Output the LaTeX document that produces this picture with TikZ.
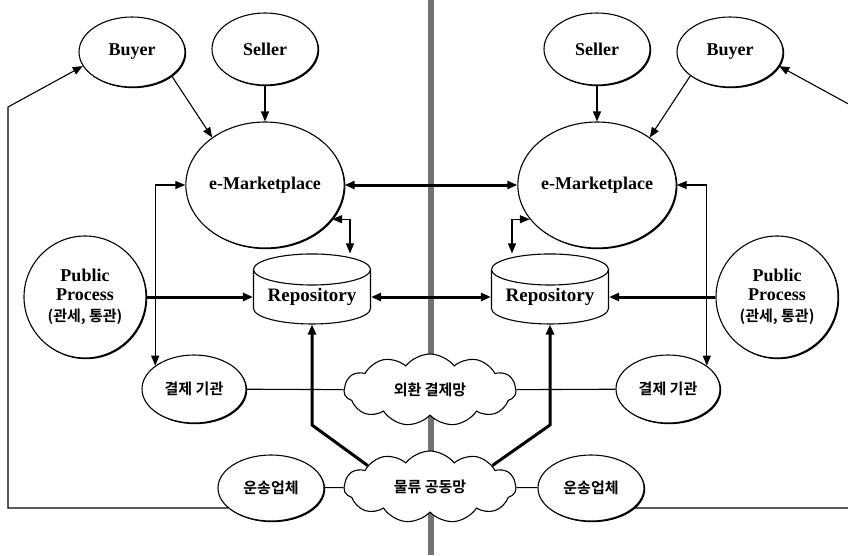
\documentclass[tikz,border=0pt]{standalone}
\usepackage{fontspec}
\setmainfont{Liberation Serif}
\newfontfamily\kr{Noto Sans CJK KR}[BoldFont={Noto Sans CJK KR Bold}]
\usetikzlibrary{shapes.geometric}
\usetikzlibrary{shapes.symbols}
\usetikzlibrary{arrows.meta}
\usetikzlibrary{shadows}
\usetikzlibrary{calc}
\tikzset{every picture/.style={x=1pt,y=-1pt,line width=1.1pt,>={Triangle[length=10pt,width=8pt]}},
oval/.style={ellipse,draw,fill=white,inner sep=0pt,font=\fontsize{18}{20}\selectfont\bfseries,
  drop shadow={shadow xshift=1.2pt,shadow yshift=-1.2pt,fill=black,opacity=1}},
hangul/.style={font=\kr\bfseries\fontsize{15}{17}\selectfont},
cloudy/.style={cloud,cloud puffs=11,cloud puff arc=105,aspect=2.3,draw,fill=white,inner sep=0pt,
  minimum width=172pt,minimum height=72pt,hangul},
db/.style={cylinder,shape border rotate=90,aspect=0.35,draw,fill=white,inner sep=0pt,
  minimum width=117pt,minimum height=70pt,font=\fontsize{19}{20}\selectfont\bfseries},
fat/.style={line width=3pt}}

\begin{document}
\begin{tikzpicture}
\clip (0,0) rectangle (848,555);
% border between the two markets
\draw[line width=6pt,black!55] (431,0) -- (431,555);
\node (fx) at (430,390) [cloudy] {외환 결제망};
\node (logi) at (430,487) [cloudy] {물류 공동망};
\foreach \s/\n in {-1/L, 1/R} {
\pgfmathtruncatemacro\ab{-90-\s*59}
\pgfmathtruncatemacro\am{90-\s*48}
\pgfmathtruncatemacro\al{90-\s*106}
\pgfmathtruncatemacro\as{-90+\s*65}
\pgfmathtruncatemacro\ap{90-\s*59}
\pgfmathtruncatemacro\aw{90-\s*90}
\pgfmathtruncatemacro\ae{90+\s*90}
\pgfmathtruncatemacro\ar{90+\s*117}
\pgfmathtruncatemacro\ac{90-\s*71}
\pgfmathtruncatemacro\dx{-38*\s}
\node (buy\n) at (431+\s*299,52) [oval,minimum width=106pt,minimum height=70pt] {Buyer};
\node (sell\n) at (431+\s*166,49) [oval,minimum width=106pt,minimum height=72pt] {Seller};
\node (mkt\n) at (431+\s*166,185) [oval,minimum width=138pt,minimum height=126pt] {e-Marketplace};
\node (rep\n) at (431+\s*119,297) [db] {Repository};
\node (pub\n) at (431+\s*346,297) [oval,minimum width=122pt,minimum height=122pt,align=center]
  {Public\\[-1pt]Process\\[1pt]{\kr\bfseries\fontsize{15}{17}\selectfont (관세, 통관)}};
\node (pay\n) at (431+\s*237,389) [oval,hangul,minimum width=104pt,minimum height=68pt] {결제 기관};
\node (ship\n) at (431+\s*160,488) [oval,hangul,minimum width=106pt,minimum height=66pt] {운송업체};
\coordinate (lt\n) at (431+\s*423,107);
\coordinate (kink\n) at (431+\s*119,425);
\coordinate (mx\n) at (mkt\n.\ae);
\coordinate (rx\n) at (rep\n.\ae);
\draw[->] (buy\n.\ab) -- (mkt\n.\am);
\draw[->] (sell\n) -- (mkt\n);
\draw[->] (ship\n.\as) -| (lt\n) -- (buy\n.\al);
\draw[<->] (mkt\n.\aw) -| (pay\n.\ap);
\draw[<->] (mkt\n.\ar) -| ([xshift=\dx pt]rep\n.north);
\draw[fat,->] (pub\n.\ae) -- (rep\n.\aw);
\draw[fat,->] (logi.\ac) -- (kink\n) -- (rep\n.south);
\draw (pay\n) -- (fx);
\draw (ship\n) -- (logi);
}
\draw[fat,<->] (mxL) -- (mxR);
\draw[fat,<->] (rxL) -- (rxR);
\end{tikzpicture}
\end{document}
